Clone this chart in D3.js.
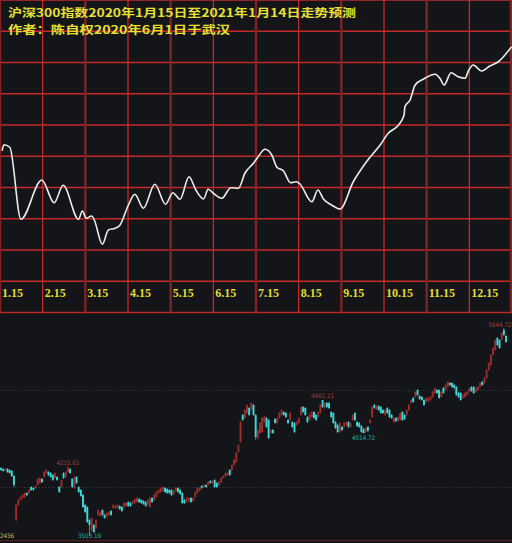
<!DOCTYPE html>
<html><head><meta charset="utf-8">
<script src="https://cdn.jsdelivr.net/npm/d3@7"></script>
<style>html,body{margin:0;padding:0;background:#141518;overflow:hidden}</style>
</head><body>
<svg id="c" width="512" height="543"></svg>
<script>
// ---------- DATA ----------
const titleLine1 = "沪深300指数2020年1月15日至2021年1月14日走势预测";
const titleLine2 = "作者：陈自权2020年6月1日于武汉";
const monthLabels = ["1.15","2.15","3.15","4.15","5.15","6.15","7.15","8.15","9.15","10.15","11.15","12.15"];
// forecast: time in months since Jan 15, value in index points
const forecastT = [0.05,0.09,0.23,0.49,0.98,1.27,1.48,1.84,1.93,2.02,2.15,2.21,2.40,2.54,2.70,2.80,3.01,3.16,3.36,3.63,3.88,4.05,4.22,4.43,4.59,4.77,4.88,5.00,5.20,5.41,5.59,5.74,5.94,6.05,6.21,6.37,6.49,6.64,6.81,6.95,7.03,7.31,7.45,7.58,7.77,7.97,8.28,8.59,8.91,9.10,9.34,9.47,9.49,9.61,9.73,9.92,10.20,10.31,10.41,10.57,10.74,10.90,10.98,11.09,11.29,11.48,11.68,11.99];
const forecastV = [4594,4642,4622,4046,4360,4178,4318,4046,4112,4054,4072,4040,3846,3960,3974,3994,4160,4246,4134,4326,4166,4258,4206,4386,4280,4208,4286,4254,4214,4298,4294,4414,4494,4546,4606,4560,4462,4434,4338,4346,4328,4186,4280,4208,4160,4128,4346,4506,4640,4734,4800,4880,4946,5000,5120,5166,5206,5174,5120,5218,5186,5174,5234,5280,5232,5272,5306,5426];

// actual daily candles (CSI 300)
const open = [4201,4190,4180,4190,4180,4170,4118,3665,3820,3871,
3892,3902,3943,3943,4005,3995,3995,4025,4046,4087,
4108,4149,4159,4149,4128,4098,4108,4005,4005,4149,
4108,4159,4190,4087,3995,4108,4005,3974,3922,3820,
3799,3665,3562,3614,3583,3717,3706,3768,3717,3696,
3717,3758,3789,3789,3789,3809,3799,3799,3809,3850,
3840,3830,3840,3850,3881,3871,3861,3850,3820,3799,
3892,3871,3902,3943,3953,3964,3995,3984,3974,3974,
3933,3964,3995,3974,3943,3871,3850,3861,3892,3861,
3902,3943,3964,4015,4005,4025,4025,4067,4046,4077,
4046,4025,4056,4098,4118,4128,4180,4180,4231,4262,
4365,4468,4747,4716,4767,4819,4798,4850,4747,4510,
4561,4571,4674,4716,4695,4561,4592,4705,4664,4716,
4747,4777,4767,4695,4695,4674,4664,4644,4664,4747,
4829,4819,4726,4695,4726,4777,4747,4726,4767,4901,
4819,4870,4870,4777,4767,4674,4644,4571,4623,4623,
4644,4674,4623,4695,4767,4674,4664,4633,4602,4571,
4623,4664,4726,4850,4808,4839,4829,4798,4747,4819,
4798,4747,
4674,4716,4685,4695,4777,4747,4747,4798,4870,4922,
4932,5004,4942,4932,4901,4881,4891,4901,4932,4973,
5004,5004,4932,5025,5004,5035,5076,5076,5056,5035,
4973,4973,4922,4932,4953,4984,5035,5035,4984,5004,
5035,5087,5076,5128,5210,5262,5365,5416,5540,5519,
5519,5622,5560];
const close = [4180,4170,4190,4159,4149,4118,4025,3820,3871,3902,
3922,3943,3922,3974,3974,3974,4015,4087,4098,4056,
4159,4180,4128,4108,4077,4149,4077,3953,4077,4098,
4159,4211,4149,4005,4108,4046,3953,3912,3799,3747,
3644,3614,3686,3541,3665,3768,3747,3717,3686,3737,
3747,3717,3820,3809,3820,3778,3758,3840,3840,3809,
3809,3861,3881,3892,3850,3840,3830,3809,3871,3892,
3850,3922,3953,3974,3995,4005,3953,3943,3943,3922,
3964,3995,3953,3933,3840,3840,3892,3892,3850,3892,
3953,3995,3995,3995,4025,4005,4056,4046,4067,4005,
4005,4056,4098,4118,4149,4149,4128,4231,4283,4355,
4437,4674,4695,4798,4850,4747,4870,4747,4520,4592,
4664,4716,4726,4623,4510,4592,4561,4664,4716,4767,
4798,4747,4726,4664,4767,4623,4571,4674,4716,4829,
4777,4747,4674,4747,4777,4716,4695,4777,4850,4829,
4870,4829,4819,4726,4664,4613,4571,4664,4592,4664,
4674,4623,4664,4747,4695,4633,4623,4571,4561,4613,
4582,4695,4829,4819,4839,4798,4767,4767,4798,4767,
4726,4716,
4716,4685,4726,4767,4695,4705,4798,4850,4901,4881,
4984,4953,4911,4901,4850,4922,4922,4932,4984,5025,
4973,4922,4984,4973,5056,5087,5056,5035,5025,4953,
4932,4901,4953,4973,4984,5025,4994,4973,5025,5035,
5076,5056,5128,5210,5282,5365,5437,5519,5468,5437,
5591,5571,5499];
const high = [4211,4201,4201,4201,4190,4180,4128,3830,3881,3912,
3933,3953,3953,3984,4015,4005,4025,4098,4108,4098,
4170,4190,4170,4159,4139,4159,4118,4015,4087,4159,
4170,4215.65,4201,4098,4118,4118,4015,3984,3933,3830,
3809,3675,3696,3624,3675,3778,3758,3778,3727,3747,
3758,3768,3830,3820,3830,3820,3809,3850,3850,3861,
3850,3871,3892,3902,3892,3881,3871,3861,3881,3902,
3902,3933,3964,3984,4005,4015,4005,3995,3984,3984,
3974,4005,4005,3984,3953,3881,3902,3902,3902,3902,
3964,4005,4005,4025,4036,4036,4067,4077,4077,4087,
4056,4067,4108,4128,4159,4159,4190,4242,4293,4365,
4448,4685,4757,4808,4860,4829,4881,4860,4757,4602,
4674,4726,4736,4726,4705,4602,4602,4716,4726,4777,
4808,4788,4777,4705,4777,4685,4674,4685,4726,4839,
4839,4829,4736,4757,4788,4788,4757,4788,4860,4901.21,
4881,4881,4881,4788,4777,4685,4654,4674,4633,4674,
4685,4685,4674,4757,4777,4685,4674,4644,4613,4623,
4633,4705,4839,4860,4850,4850,4839,4808,4808,4829,
4808,4757,
4726,4726,4736,4777,4788,4757,4808,4860,4911,4932,
4994,5014,4953,4942,4911,4932,4932,4942,4994,5035,
5014,5014,4994,5035,5066,5097,5087,5087,5066,5045,
4984,4984,4963,4984,4994,5035,5045,5045,5035,5045,
5087,5097,5138,5220,5293,5375,5447,5529,5550,5529,
5601,5644.72,5571];
const low = [4170,4159,4170,4149,4139,4108,4005,3644,3809,3861,
3881,3892,3912,3933,3964,3964,3984,4015,4036,4046,
4098,4139,4118,4098,4067,4087,4067,3943,3995,4087,
4098,4149,4139,3995,3984,4036,3943,3902,3789,3737,
3634,3503.19,3541,3531,3572,3706,3696,3706,3675,3686,
3706,3706,3778,3778,3778,3768,3747,3789,3799,3799,
3799,3820,3830,3840,3840,3830,3820,3799,3809,3789,
3840,3861,3892,3933,3943,3953,3943,3933,3933,3912,
3922,3953,3943,3922,3830,3830,3840,3850,3840,3850,
3892,3933,3953,3984,3995,3995,4015,4036,4036,3995,
3995,4015,4046,4087,4108,4118,4118,4170,4221,4252,
4355,4458,4685,4705,4757,4736,4788,4736,4489,4489,
4551,4561,4664,4613,4499,4551,4551,4654,4654,4705,
4736,4736,4716,4654,4685,4613,4561,4633,4654,4736,
4767,4736,4664,4685,4716,4705,4685,4716,4757,4819,
4808,4819,4808,4716,4654,4602,4561,4561,4582,4613,
4633,4613,4613,4685,4685,4623,4613,4561,4554.72,4561,
4571,4654,4716,4808,4798,4788,4757,4757,4736,4757,
4716,4705,
4664,4674,4674,4685,4685,4695,4736,4788,4860,4870,
4922,4943,4901,4891,4839,4870,4881,4891,4922,4963,
4963,4911,4922,4963,4994,5025,5045,5025,5014,4943,
4922,4891,4911,4922,4943,4973,4984,4963,4973,4994,
5025,5045,5066,5118,5200,5252,5355,5406,5457,5426,
5509,5560,5488];
const highMarks = [4215.65, 4901.21, 5644.72];
const lowMarks = [3503.19, 4554.72];
const refLevels = [4000, 5000];
const cornerLabel = "2436";

// ---------- DRAW ----------
const W = 512, H = 543;
const svg = d3.select("#c");
const bg = "#141518";
svg.append("rect").attr("width", W).attr("height", H).attr("fill", bg);

const topH = 312.5;
const xTop = d3.scaleLinear().domain([0, 12]).range([0, W]);
const yTop = d3.scaleLinear().domain([3300, 5800]).range([topH, 0]);

const gTop = svg.append("g");
const hVals = d3.range(3300, 5801, 250);
gTop.selectAll("line.h").data(hVals).join("line")
  .attr("x1", 0).attr("x2", W)
  .attr("y1", d => yTop(d)).attr("y2", d => yTop(d))
  .attr("stroke", "#c3292b").attr("stroke-width", 1.3);
const vIdx = d3.range(0, 13);
gTop.selectAll("line.v").data(vIdx).join("line")
  .attr("x1", d => Math.min(xTop(d), W - 1)).attr("x2", d => Math.min(xTop(d), W - 1))
  .attr("y1", 0).attr("y2", topH)
  .attr("stroke", d => d % 2 === 0 ? "#7e2326" : "#cf2b2d")
  .attr("stroke-width", d => d % 2 === 0 ? 2.4 : 1.2);

const pts = forecastT.map((t, i) => [t, forecastV[i]]);
const line = d3.line().x(d => xTop(d[0])).y(d => yTop(d[1])).curve(d3.curveMonotoneX);
gTop.append("path").datum(pts).attr("d", line)
  .attr("fill", "none").attr("stroke", "#ececec").attr("stroke-width", 1.6)
  .attr("stroke-linejoin", "round");

gTop.selectAll("text.m").data(monthLabels).join("text")
  .attr("x", (d, i) => xTop(i) + 2).attr("y", 297)
  .attr("fill", "#e4dc2e").attr("font-family", "'Liberation Serif', serif")
  .attr("font-weight", "bold").attr("font-size", 12).text(d => d);

// two-line title
const tStyle = s => s.attr("fill", "#e8e030").attr("font-family", "'Noto Sans CJK SC', sans-serif")
  .attr("font-size", 11.4).attr("font-weight", "bold").attr("lengthAdjust", "spacingAndGlyphs");
svg.append("text").attr("x", 8).attr("y", 17.2).attr("textLength", 348).call(tStyle).text(titleLine1);
svg.append("text").attr("x", 8).attr("y", 33.8).attr("textLength", 222).call(tStyle).text(titleLine2);

const N = Math.min(open.length, close.length, high.length, low.length);
const xBot = d3.scaleLinear().domain([0, N - 1]).range([1, 506]);
const yBot = d3.scaleLinear().domain([3459, 5797]).range([540, 313]);
const gBot = svg.append("g");

gBot.selectAll("line.ref").data(refLevels).join("line")
  .attr("x1", 0).attr("x2", W).attr("y1", d => Math.round(yBot(d)) + 0.5).attr("y2", d => Math.round(yBot(d)) + 0.5)
  .attr("stroke", "#3c3c3c").attr("stroke-width", 1).attr("stroke-dasharray", "1,2");

const idx = d3.range(N);
const up = i => close[i] >= open[i];
const redC = "#9a2e2e", cyanC = "#3fd8d8";
gBot.selectAll("line.wick").data(idx).join("line")
  .attr("x1", i => xBot(i)).attr("x2", i => xBot(i))
  .attr("y1", i => yBot(high[i])).attr("y2", i => yBot(low[i]))
  .attr("stroke", i => up(i) ? "#8a2a2a" : "#2fb8b8").attr("stroke-width", 0.8);
gBot.selectAll("rect.body").data(idx).join("rect")
  .attr("x", i => xBot(i) - 0.95).attr("width", 1.9)
  .attr("y", i => yBot(Math.max(open[i], close[i])))
  .attr("height", i => Math.max(1, Math.abs(yBot(open[i]) - yBot(close[i]))))
  .attr("fill", i => up(i) ? redC : cyanC);

const lblFont = s => s.attr("font-family", "'DejaVu Sans Condensed','DejaVu Sans',sans-serif")
  .attr("font-size", 6.2).attr("text-anchor", "middle");
highMarks.forEach(v => {
  const i = high.indexOf(v);
  const x = Math.min(xBot(i), W - 12);
  gBot.append("text").attr("x", x).attr("y", Math.max(yBot(v) - 1.5, 327))
    .attr("fill", "#b33a3a").call(lblFont).text(v.toFixed(2));
});
lowMarks.forEach(v => {
  const i = low.indexOf(v);
  gBot.append("text").attr("x", xBot(i)).attr("y", Math.min(yBot(v) + 6.5, 537.5))
    .attr("fill", "#22b4b4").call(lblFont).text(v.toFixed(2));
});
gBot.append("text").attr("x", 0).attr("y", 538).attr("fill", "#c8c060")
  .attr("font-family", "'DejaVu Sans Condensed',sans-serif").attr("font-size", 6.2)
  .text(cornerLabel);

svg.append("line").attr("x1", 0).attr("x2", W).attr("y1", 540.5).attr("y2", 540.5)
  .attr("stroke", "#5e1f20").attr("stroke-width", 1);
</script>
</body></html>
